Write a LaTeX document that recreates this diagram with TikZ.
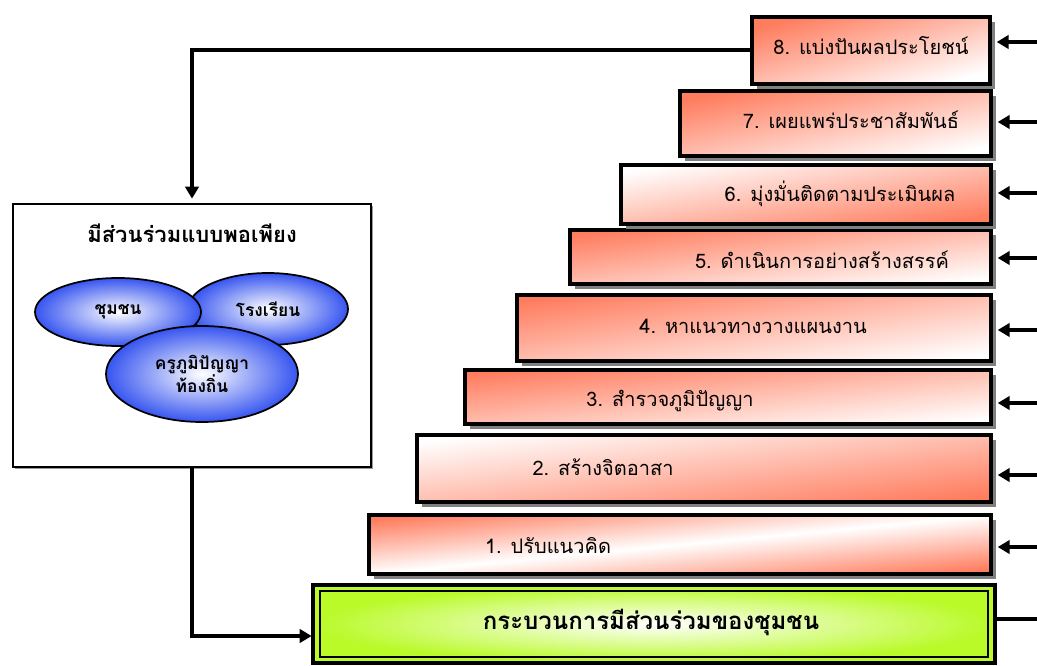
\documentclass[tikz,border=0pt]{standalone}
\usepackage{fontspec}
\newfontfamily\thai[Script=Thai]{Loma}
\usetikzlibrary{shadows,arrows.meta,calc,shapes.geometric}
\definecolor{salm}{RGB}{255,125,95}
\definecolor{bluel}{RGB}{55,85,240}
\definecolor{lime}{RGB}{185,250,40}
\pgfdeclareverticalshading{shtl}{100bp}{color(0bp)=(white); color(25bp)=(white); color(75bp)=(salm); color(100bp)=(salm)}
\pgfdeclareverticalshading{shbr}{100bp}{color(0bp)=(salm); color(25bp)=(salm); color(75bp)=(white); color(100bp)=(white)}
\pgfdeclareverticalshading{shmid}{100bp}{color(0bp)=(salm); color(25bp)=(salm); color(50bp)=(white); color(75bp)=(salm); color(100bp)=(salm)}
\newcommand{\pxu}{0.75pt}
\tikzset{
  stepbox/.style={draw=black, line width=3pt, rectangle, inner sep=0pt, outer sep=0pt,
    drop shadow={shadow xshift=4pt, shadow yshift=-4pt, fill=black!50, opacity=1}},
  tl/.style={shading=shtl, shading angle=#1},
  br/.style={shading=shbr, shading angle=#1},
  mid/.style={shading=shmid, shading angle=#1},
  steptext/.style={font=\thai\fontsize{15}{18}\selectfont, inner sep=0pt},
  blob/.style={ellipse, draw=black, line width=1.3pt, inner color=white, outer color=bluel,
    font=\thai\bfseries\fontsize{13}{17}\selectfont, align=center, inner sep=0pt},
  arr/.style={line width=3pt, -{Triangle[length=9pt,width=10pt]}},
  plain/.style={line width=3pt},
}
\begin{document}
\begin{tikzpicture}[x=0.75pt,y=-0.75pt]
\useasboundingbox (0,0) rectangle (1037,666);
% green base box
\node[draw=black, line width=3.5pt, rectangle, inner sep=0pt, outer sep=0pt,
  minimum width=682*\pxu, minimum height=78*\pxu, inner color=white, outer color=lime] (g) at (654,624) {};
\draw[line width=1.2pt] ($(g.south west)+(7,-6)$) rectangle ($(g.north east)+(-7,6)$);
\node[font=\thai\bfseries\fontsize{18}{21}\selectfont] (gt) at (651,622) {กระบวนการมีส่วนร่วมของชุมชน};
% steps
\node[stepbox, mid=5.4, minimum width=622*\pxu, minimum height=59*\pxu] (s1) at (680,544.5) {};
\node[steptext] (t1) at (548,546) {1. ปรับแนวคิด};
\node[stepbox, br=6.7, minimum width=574*\pxu, minimum height=67*\pxu] (s2) at (704,468.5) {};
\node[steptext] (t2) at (603,467) {2. สร้างจิตอาสา};
\node[stepbox, tl=5.9, minimum width=526*\pxu, minimum height=54*\pxu] (s3) at (728,397) {};
\node[steptext] (t3) at (670,401) {3. สำรวจภูมิปัญญา};
\node[stepbox, tl=7.9, minimum width=474*\pxu, minimum height=66*\pxu] (s4) at (754,328) {};
\node[steptext] (t4) at (753,326) {4. หาแนวทางวางแผนงาน};
\node[stepbox, tl=7.3, minimum width=421*\pxu, minimum height=54*\pxu] (s5) at (780.5,257) {};
\node[steptext] (t5) at (822,260) {5. ดำเนินการอย่างสร้างสรรค์};
\node[stepbox, br=9.1, minimum width=370*\pxu, minimum height=59*\pxu] (s6) at (806,194.5) {};
\node[steptext] (t6) at (840,194) {6. มุ่งมั่นติดตามประเมินผล};
\node[stepbox, tl=11.8, minimum width=311*\pxu, minimum height=65*\pxu] (s7) at (835.5,123.5) {};
\node[steptext] (t7) at (851,120) {7. เผยแพร่ประชาสัมพันธ์};
\node[stepbox, tl=15.7, minimum width=238*\pxu, minimum height=67*\pxu] (s8) at (871,50.5) {};
\node[steptext] (t8) at (871,46) {8. แบ่งปันผลประโยชน์};
% left box
\node[draw=black, line width=1.5pt, rectangle, fill=white, inner sep=0pt, outer sep=0pt,
  minimum width=358*\pxu, minimum height=263*\pxu,
  drop shadow={shadow xshift=1.5pt, shadow yshift=-1.5pt, fill=black!40, opacity=1}] (lb) at (192,335.5) {};
\node[font=\thai\bfseries\fontsize{16.5}{19}\selectfont] (lt) at (192,233) {มีส่วนร่วมแบบพอเพียง};
\node[blob, minimum width=160*\pxu, minimum height=72*\pxu] (e2) at (268,309) {โรงเรียน};
\node[blob, minimum width=166*\pxu, minimum height=68*\pxu] (e1) at (118,312) {ชุมชน};
\node[blob, minimum width=192*\pxu, minimum height=96*\pxu] (e3) at (202,374) {ครูภูมิปัญญา\\ท้องถิ่น};
% connectors
\draw[arr, shorten >=4pt] (s8.west) -| (lb.north);
\coordinate (gin) at ($(g.west)+(0,12)$);
\draw[arr, shorten >=1pt] (lb.south) |- (gin);
\coordinate (gout) at (1037,619);
\draw[plain] (gout) -- (gout -| g.east);
\foreach \n/\yy in {1/547,2/475,3/403,4/330,5/258,6/193,7/122,8/42}{
  \coordinate (r\n) at (1037,\yy);
  \draw[arr] (r\n) -- ([xshift=5pt]r\n -| s\n.east);
}
\end{tikzpicture}
\end{document}
